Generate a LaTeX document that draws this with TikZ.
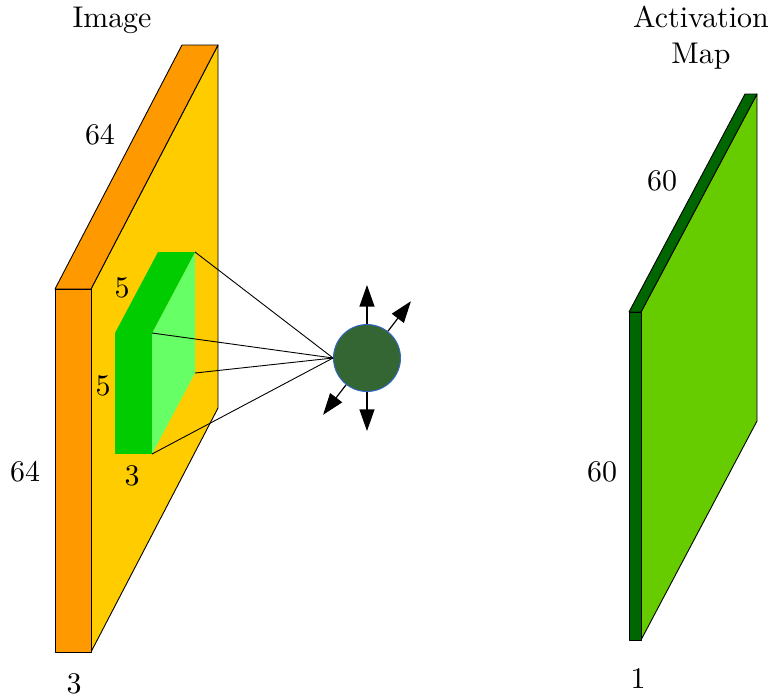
\documentclass[tikz,border=0pt]{standalone}
\usepackage{tikz}
\usetikzlibrary{arrows.meta,positioning}
\definecolor{cImgFront}{HTML}{FF9900}
\definecolor{cImgSide}{HTML}{FFCC00}
\definecolor{cKerFront}{HTML}{00CC00}
\definecolor{cKerSide}{HTML}{66FF66}
\definecolor{cMapFront}{HTML}{006600}
\definecolor{cMapSide}{HTML}{66CC00}
\definecolor{cNeuron}{HTML}{336633}
\definecolor{cNeuronRim}{HTML}{3366CC}
\tikzset{
  slab/.style   ={draw=black, line width=0.3pt, line join=round},
  kerface/.style={draw=none},
  ray/.style    ={draw=black, line width=0.3pt},
  spike/.style  ={-{Triangle[length=7.2pt,width=5pt]}, draw=black, line width=0.4pt},
  neuron/.style ={circle, fill=cNeuron, draw=cNeuronRim, line width=0.3pt,
                  minimum size=22.4pt, inner sep=0pt},
  lbl/.style    ={font=\normalsize, inner sep=1pt, align=center},
}
\begin{document}
\begin{tikzpicture}[x=0.334pt, y=-0.334pt]
  \useasboundingbox (0,0) rectangle (773,696);
  % input image
  \filldraw[slab, fill=cImgSide]  (91,289) -- (218,45) -- (218,408) -- (91,652) -- cycle;
  \filldraw[slab, fill=cImgFront] (55,289) -- (182,45) -- (218,45) -- (91,289) -- cycle;
  \filldraw[slab, fill=cImgFront] (55,289) rectangle (91,652);
  % kernel
  \coordinate (k-ftr) at (152,333);
  \coordinate (k-fbr) at (152,454);
  \coordinate (k-btr) at (195,252);
  \coordinate (k-bbr) at (195,373);
  \fill[kerface, fill=cKerSide]  (k-ftr) -- (k-btr) -- (k-bbr) -- (k-fbr) -- cycle;
  \fill[kerface, fill=cKerFront] (115,333) -- (158,252) -- (k-btr) -- (k-ftr) -- cycle;
  \fill[kerface, fill=cKerFront] (115,333) rectangle (k-fbr);
  % neuron
  \node[neuron] (nrn) at (367,358) {};
  \draw[ray] (k-btr) -- (nrn.west);
  \draw[ray] (k-ftr) -- (nrn.west);
  \draw[ray] (k-bbr) -- (nrn.west);
  \draw[ray] (k-fbr) -- (nrn.west);
  \draw[spike] (nrn.north) -- ++(0,-39);
  \draw[spike] (nrn.south) -- ++(0,39);
  \draw[spike] (nrn.52) -- ++(23,-30);
  \draw[spike] (nrn.232) -- ++(-23,30);
  % activation map
  \filldraw[slab, fill=cMapSide]  (641,312) -- (757,94) -- (757,421) -- (641,640) -- cycle;
  \filldraw[slab, fill=cMapFront] (629,312) -- (745,94) -- (757,94) -- (641,312) -- cycle;
  \filldraw[slab, fill=cMapFront] (629,312) rectangle (641,640);
  % labels
  \node[lbl] (img-title) at (112,20)  {Image};
  \node[lbl] (img-w)     at (100,135) {64};
  \node[lbl] (img-h)     at (25,472)  {64};
  \node[lbl] (img-d)     at (74,684)  {3};
  \node[lbl] (ker-w)     at (122,288) {5};
  \node[lbl] (ker-h)     at (103,386) {5};
  \node[lbl] (ker-d)     at (132,476) {3};
  \node[lbl] (map-title) at (701,38)  {Activation\\Map};
  \node[lbl] (map-w)     at (662,181) {60};
  \node[lbl] (map-h)     at (602,472) {60};
  \node[lbl] (map-d)     at (638,679) {1};
\end{tikzpicture}
\end{document}
